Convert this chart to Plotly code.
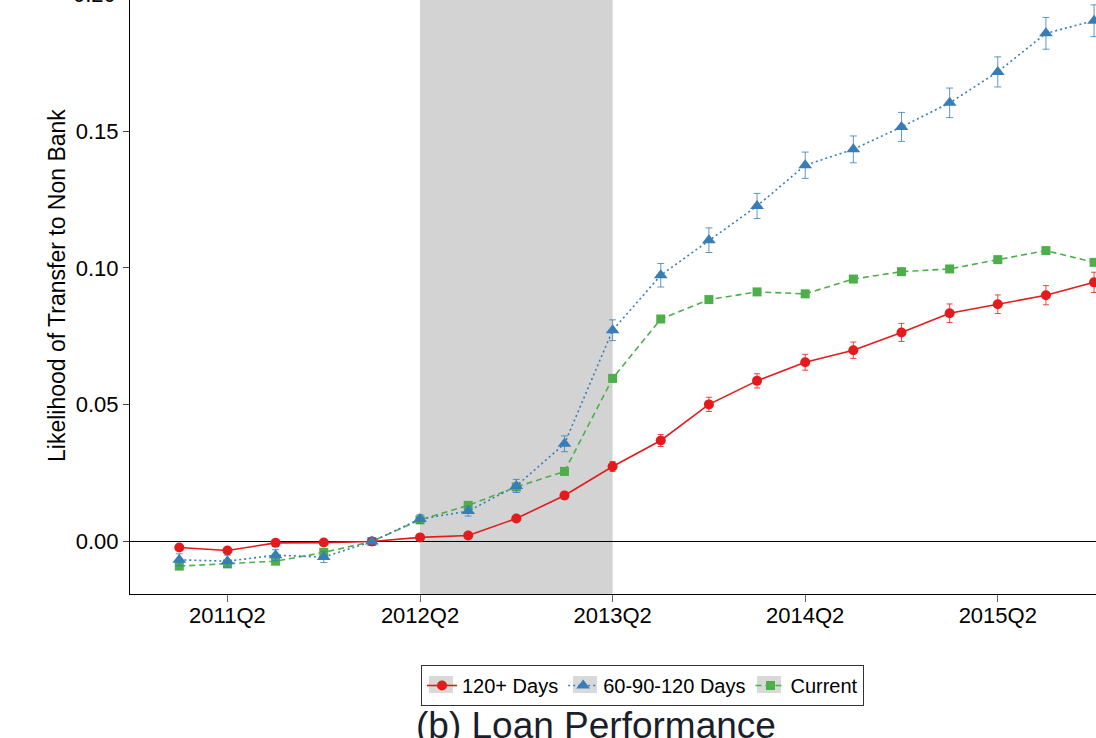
import plotly.graph_objects as go

# Quarterly event-time axis
quarters = [f"{y}Q{q}" for y in range(2011, 2016) for q in range(1, 5)]
tick_quarters = ["2011Q2", "2012Q2", "2013Q2", "2014Q2", "2015Q2"]

y_tickvals = [0.0, 0.05, 0.10, 0.15]
y_ticktext = ["0.00", "0.05", "0.10", "0.15"]

# Coefficients and confidence half-widths by delinquency status
days_120 = [-0.0022, -0.0033, -0.0005, -0.0004, 0.0, 0.0015, 0.0022, 0.0084, 0.0168, 0.0274,
            0.0369, 0.0501, 0.0587, 0.0655, 0.0699, 0.0764, 0.0834, 0.0867, 0.0900, 0.0947]
days_120_ci = [0.0008, 0.0008, 0.0007, 0.0007, 0.0, 0.0008, 0.0009, 0.0011, 0.0014, 0.0018,
               0.0022, 0.0026, 0.0026, 0.0029, 0.0030, 0.0033, 0.0034, 0.0034, 0.0035, 0.0037]

days_60_90 = [-0.0067, -0.0072, -0.0050, -0.0057, 0.0, 0.0082, 0.0111, 0.0203, 0.0357, 0.0772,
              0.0973, 0.1101, 0.1226, 0.1375, 0.1433, 0.1515, 0.1603, 0.1716, 0.1857, 0.1903]
days_60_90_ci = [0.0022, 0.0022, 0.0020, 0.0020, 0.0, 0.0016, 0.0018, 0.0024, 0.0029, 0.0038,
                 0.0043, 0.0045, 0.0046, 0.0048, 0.0049, 0.0053, 0.0054, 0.0055, 0.0058, 0.0058]

current = [-0.0090, -0.0082, -0.0072, -0.0040, 0.0, 0.0079, 0.0132, 0.0199, 0.0256, 0.0596,
           0.0813, 0.0884, 0.0912, 0.0905, 0.0959, 0.0986, 0.0996, 0.1030, 0.1063, 0.1020]
current_ci = [0.0007] * 4 + [0.0] + [0.0007] * 15

FONT = "Liberation Sans, Arial, Helvetica, sans-serif"
RED, BLUE, GREEN = "#e41a1c", "#377eb8", "#4daf4a"

W, H = 1096, 738
L, B = 130, 144
PLOT_H = H - B
PLOT_W = W - L


def px_x(p):
    return (p - L) / PLOT_W


def px_y(p):
    return (PLOT_H - p) / PLOT_H


fig = go.Figure()

fig.add_trace(go.Scatter(
    x=quarters, y=current, name="Current", legendrank=3,
    mode="lines+markers",
    line=dict(color=GREEN, width=1.6, dash="6px,4px"),
    marker=dict(symbol="square", size=9, color=GREEN),
    error_y=dict(type="data", array=current_ci, color="rgba(77,175,74,0.8)", thickness=1, width=3),
))
fig.add_trace(go.Scatter(
    x=quarters, y=days_120, name="120+ Days", legendrank=1,
    mode="lines+markers",
    line=dict(color=RED, width=1.6),
    marker=dict(symbol="circle", size=10, color=RED),
    error_y=dict(type="data", array=days_120_ci, color="rgba(228,26,28,0.8)", thickness=1, width=3),
))
fig.add_trace(go.Scatter(
    x=quarters, y=days_60_90, name="60-90-120 Days", legendrank=2,
    mode="lines+markers",
    line=dict(color=BLUE, width=1.6, dash="2px,3px"),
    marker=dict(symbol="triangle-up", size=12, color=BLUE),
    error_y=dict(type="data", array=days_60_90_ci, color="rgba(55,126,184,0.8)", thickness=1, width=3.5),
))

# Shaded window and zero reference line
fig.add_shape(type="rect", xref="x", yref="paper", x0="2012Q2", x1="2013Q2", y0=0, y1=1,
              fillcolor="#d3d3d3", line=dict(width=0), layer="below")
fig.add_shape(type="line", xref="paper", yref="y", x0=0, x1=1, y0=0, y1=0,
              line=dict(color="black", width=1), layer="below")

# Legend fill and grey key backgrounds (legend itself has a transparent fill)
LEG_LEFT, LEG_TOP = 421, 665
fig.add_shape(type="rect", xref="paper", yref="paper",
              x0=px_x(LEG_LEFT), x1=px_x(853), y0=px_y(LEG_TOP + 36), y1=px_y(LEG_TOP + 1),
              fillcolor="white", line=dict(width=0), layer="above")
for centre in (LEG_LEFT + 20, LEG_LEFT + 164, LEG_LEFT + 348):
    fig.add_shape(type="rect", xref="paper", yref="paper",
                  x0=px_x(centre - 12), x1=px_x(centre + 12),
                  y0=px_y(LEG_TOP + 19 + 9), y1=px_y(LEG_TOP + 19 - 8),
                  fillcolor="#d9d9d9", line=dict(width=0), layer="above")

y_lo, y_hi = -0.01919, 0.19788
px_per_unit = PLOT_H / (y_hi - y_lo)

annotations = [
    # top tick label sitting just above the drawing area
    dict(text="0.20", xref="paper", yref="paper",
         x=px_x(118), y=1 + (0.20 - y_hi) * px_per_unit / PLOT_H,
         xanchor="right", yanchor="middle", showarrow=False,
         font=dict(family=FONT, size=22, color="black")),
    dict(text="Likelihood of Transfer to Non Bank", xref="paper", yref="paper",
         x=px_x(57), y=px_y(286), textangle=-90,
         xanchor="center", yanchor="middle", showarrow=False,
         font=dict(family=FONT, size=23, color="black")),
    dict(text="(b) Loan Performance", xref="paper", yref="paper",
         x=px_x(596), y=px_y(725),
         xanchor="center", yanchor="middle", showarrow=False,
         font=dict(family=FONT, size=37, color="#1a1f2b")),
]

fig.update_layout(
    width=W, height=H,
    margin=dict(l=L, r=0, t=0, b=B, pad=0),
    paper_bgcolor="white", plot_bgcolor="white",
    font=dict(family=FONT, color="black"),
    showlegend=True,
    legend=dict(
        orientation="h", x=px_x(LEG_LEFT), xanchor="left",
        y=px_y(LEG_TOP), yanchor="top",
        bgcolor="rgba(0,0,0,0)", bordercolor="#333333", borderwidth=1,
        font=dict(family=FONT, size=20, color="black"),
        traceorder="normal",
    ),
    annotations=annotations,
    xaxis=dict(
        type="category", categoryorder="array", categoryarray=quarters,
        range=[-1.024, 19.04], automargin=False,
        showline=True, linecolor="black", linewidth=1, mirror=False,
        ticks="outside", ticklen=7, tickcolor="#666666", tickwidth=1,
        ticklabelstandoff=-5,
        tickvals=tick_quarters, ticktext=tick_quarters,
        tickfont=dict(family=FONT, size=22, color="black"),
        showgrid=False, zeroline=False,
    ),
    yaxis=dict(
        range=[y_lo, y_hi], automargin=False,
        showline=True, linecolor="black", linewidth=1, mirror=False,
        ticks="outside", ticklen=6, tickcolor="#444444", tickwidth=1,
        tickvals=y_tickvals, ticktext=y_ticktext,
        tickfont=dict(family=FONT, size=22, color="black"),
        showgrid=False, zeroline=False,
    ),
)

fig.write_html("out.html")
